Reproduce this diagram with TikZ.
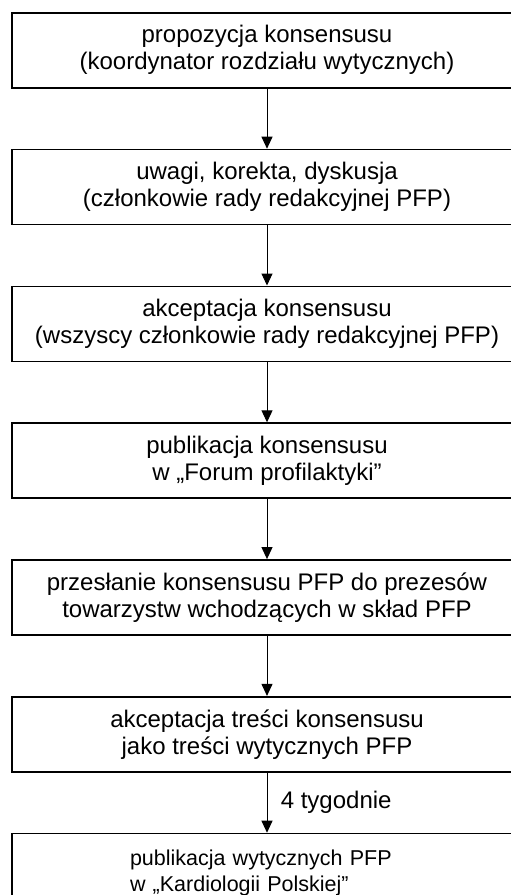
\documentclass[tikz,border=0pt]{standalone}
\usepackage{fontspec}
\setmainfont{Liberation Sans}
\usetikzlibrary{positioning,arrows.meta}

\begin{document}
\begin{tikzpicture}[%
    x=1pt, y=1pt,
    >={Triangle[width=11pt,length=12pt]},
    node distance=60.2pt,        % gap between the boxes
    ]
% -------------------------------------------------
% Box and connector styles
\tikzset{
  stepbox/.style={draw, line width=1.6pt, minimum width=510pt,
    minimum height=75pt, align=center,
    font={\fontsize{24}{27}\selectfont}},
  lastbox/.style={stepbox, align=left, inner xsep=118pt,
    text width=274pt, minimum height=78pt,
    font={\fontsize{21.5}{26}\selectfont}},
  flow/.style={->, line width=1pt, draw},
  lbl/.style={font={\fontsize{24}{27}\selectfont}}
}
\clip (0,0) rectangle (511,-895);
\useasboundingbox (0,0) rectangle (511,-895);
% -------------------------------------------------
% Start by placing the boxes
\node [stepbox] (prop) at (267,-50.2)
  {propozycja konsensusu\\(koordynator rozdziału wytycznych)};
\node [stepbox, below = of prop] (uwagi)
  {uwagi, korekta, dyskusja\\(członkowie rady redakcyjnej PFP)};
\node [stepbox, below = of uwagi] (akc)
  {akceptacja konsensusu\\(wszyscy członkowie rady redakcyjnej PFP)};
\node [stepbox, below = of akc] (pubk)
  {publikacja konsensusu\\w „Forum profilaktyki”};
\node [stepbox, below = of pubk] (przes)
  {przesłanie konsensusu PFP do prezesów\\towarzystw wchodzących w skład PFP};
\node [stepbox, below = of przes] (akct)
  {akceptacja treści konsensusu\\jako treści wytycznych PFP};
\node [lastbox, below = of akct] (pubw)
  {publikacja wytycznych PFP\\w „Kardiologii Polskiej”};

\draw [flow] (prop) -- (uwagi);
\draw [flow] (uwagi) -- (akc);
\draw [flow] (akc) -- (pubk);
\draw [flow] (pubk) -- (przes);
\draw [flow] (przes) -- (akct);
\draw [flow] (akct) -- node [lbl, right, xshift=10pt] (tyg) {4 tygodnie} (pubw);
% -------------------------------------------------
\end{tikzpicture}
\end{document}
